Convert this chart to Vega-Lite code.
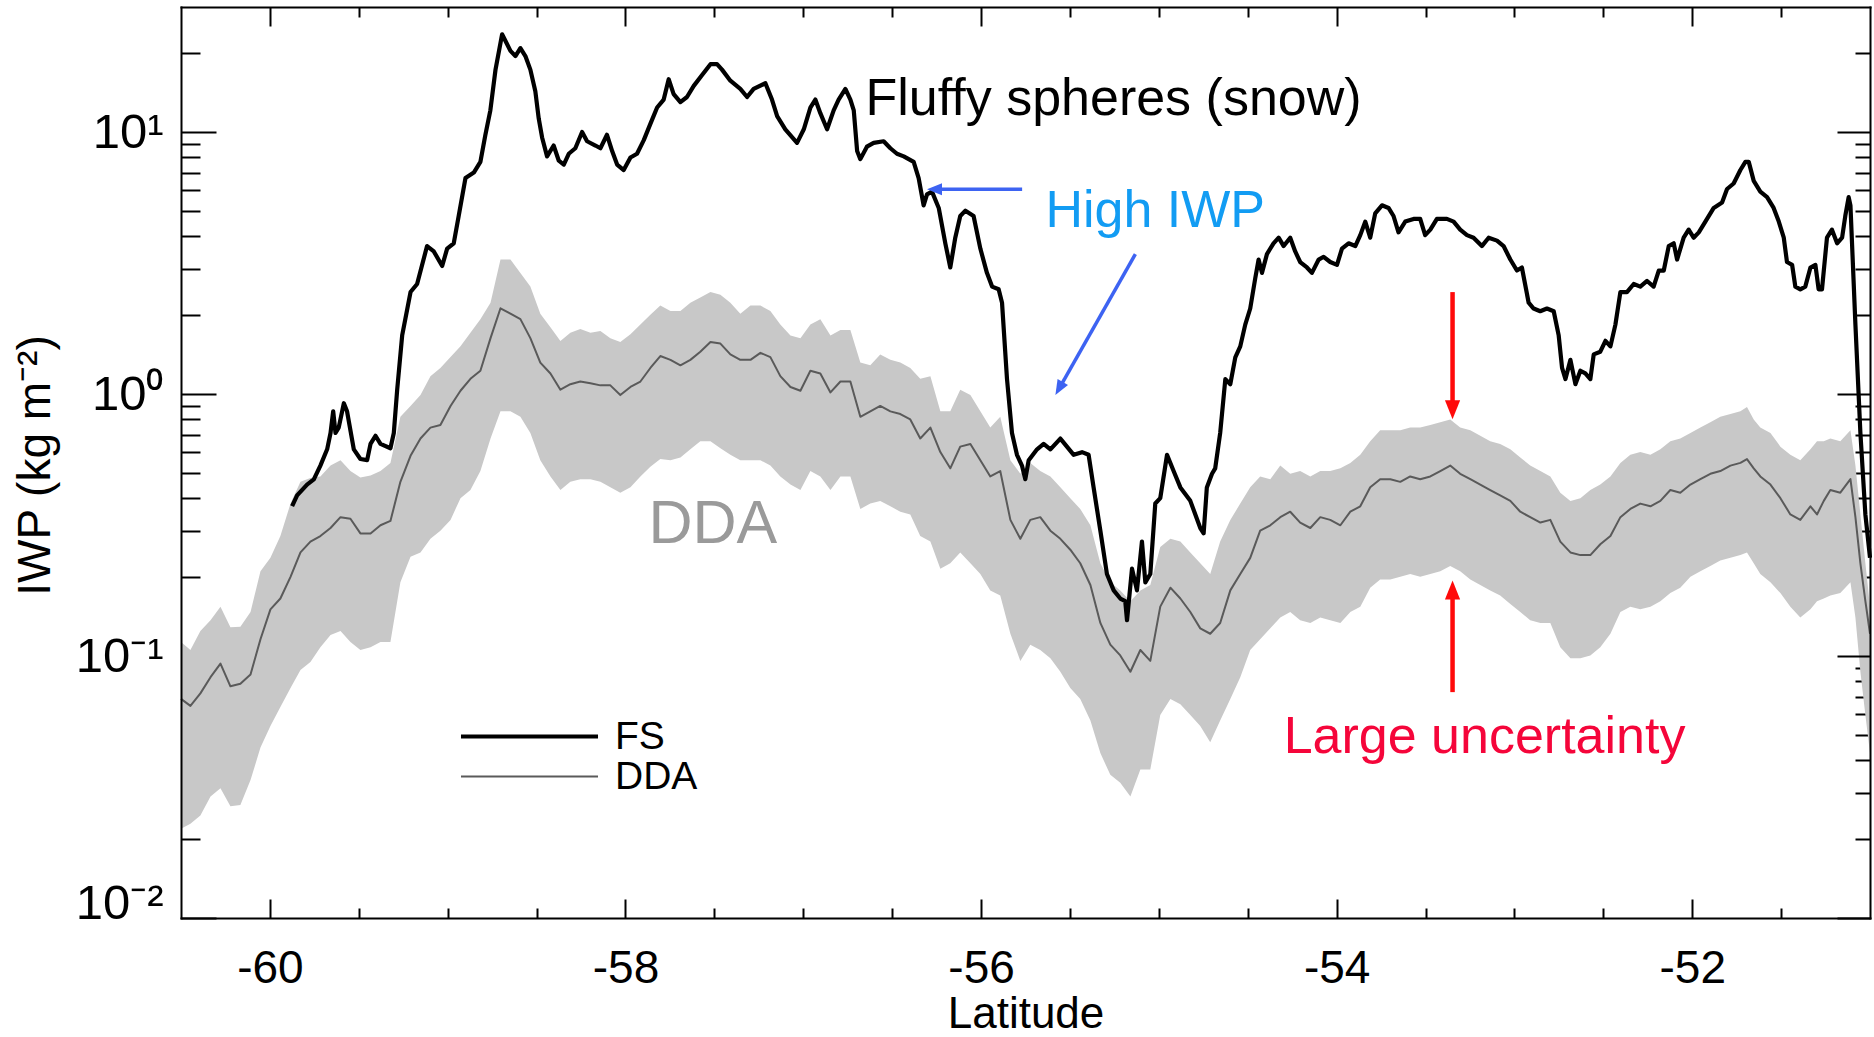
{
  "$schema": "https://vega.github.io/schema/vega-lite/v6.json",
  "width": 1689,
  "height": 911,
  "autosize": {"type": "none"},
  "padding": {"left": 181, "top": 7, "right": 4, "bottom": 119},
  "background": "white",
  "config": {
    "view": {"stroke": null},
    "font": "Liberation Sans",
    "axis": {"grid": false}
  },
  "datasets": {
    "fs": [
      {"lat": -59.875, "iwp": 0.373}, {"lat": -59.847, "iwp": 0.41}, {"lat": -59.791, "iwp": 0.451}, {"lat": -59.753, "iwp": 0.472},
      {"lat": -59.716, "iwp": 0.533}, {"lat": -59.678, "iwp": 0.615}, {"lat": -59.659, "iwp": 0.71}, {"lat": -59.644, "iwp": 0.859},
      {"lat": -59.631, "iwp": 0.71}, {"lat": -59.613, "iwp": 0.744}, {"lat": -59.584, "iwp": 0.922}, {"lat": -59.566, "iwp": 0.859},
      {"lat": -59.528, "iwp": 0.615}, {"lat": -59.491, "iwp": 0.565}, {"lat": -59.453, "iwp": 0.559}, {"lat": -59.434, "iwp": 0.645},
      {"lat": -59.406, "iwp": 0.693}, {"lat": -59.378, "iwp": 0.645}, {"lat": -59.322, "iwp": 0.621}, {"lat": -59.303, "iwp": 0.71},
      {"lat": -59.284, "iwp": 1.039}, {"lat": -59.256, "iwp": 1.673}, {"lat": -59.209, "iwp": 2.45}, {"lat": -59.172, "iwp": 2.63},
      {"lat": -59.116, "iwp": 3.67}, {"lat": -59.078, "iwp": 3.5}, {"lat": -59.031, "iwp": 3.08}, {"lat": -59.003, "iwp": 3.59},
      {"lat": -58.966, "iwp": 3.76}, {"lat": -58.938, "iwp": 4.78}, {"lat": -58.9, "iwp": 6.67}, {"lat": -58.853, "iwp": 7.0},
      {"lat": -58.816, "iwp": 7.69}, {"lat": -58.788, "iwp": 9.76}, {"lat": -58.76, "iwp": 12.1}, {"lat": -58.731, "iwp": 17.3},
      {"lat": -58.694, "iwp": 23.6}, {"lat": -58.647, "iwp": 20.4}, {"lat": -58.619, "iwp": 19.5}, {"lat": -58.591, "iwp": 20.9},
      {"lat": -58.563, "iwp": 19.5}, {"lat": -58.535, "iwp": 17.3}, {"lat": -58.507, "iwp": 14.3}, {"lat": -58.488, "iwp": 11.27},
      {"lat": -58.469, "iwp": 9.53}, {"lat": -58.441, "iwp": 8.07}, {"lat": -58.404, "iwp": 8.88}, {"lat": -58.375, "iwp": 7.77},
      {"lat": -58.347, "iwp": 7.51}, {"lat": -58.319, "iwp": 8.26}, {"lat": -58.282, "iwp": 8.67}, {"lat": -58.244, "iwp": 10.0},
      {"lat": -58.216, "iwp": 9.22}, {"lat": -58.169, "iwp": 8.88}, {"lat": -58.141, "iwp": 8.67}, {"lat": -58.104, "iwp": 9.76},
      {"lat": -58.075, "iwp": 8.46}, {"lat": -58.047, "iwp": 7.51}, {"lat": -58.01, "iwp": 7.16}, {"lat": -57.972, "iwp": 7.99},
      {"lat": -57.935, "iwp": 8.26}, {"lat": -57.897, "iwp": 9.31}, {"lat": -57.86, "iwp": 10.74}, {"lat": -57.822, "iwp": 12.4},
      {"lat": -57.785, "iwp": 13.3}, {"lat": -57.757, "iwp": 15.9}, {"lat": -57.729, "iwp": 13.96}, {"lat": -57.691, "iwp": 13.0},
      {"lat": -57.654, "iwp": 13.6}, {"lat": -57.616, "iwp": 15.0}, {"lat": -57.569, "iwp": 16.5}, {"lat": -57.522, "iwp": 18.15},
      {"lat": -57.485, "iwp": 18.15}, {"lat": -57.457, "iwp": 17.3}, {"lat": -57.41, "iwp": 15.7}, {"lat": -57.354, "iwp": 14.6},
      {"lat": -57.316, "iwp": 13.6}, {"lat": -57.279, "iwp": 14.6}, {"lat": -57.213, "iwp": 15.35}, {"lat": -57.176, "iwp": 13.3},
      {"lat": -57.147, "iwp": 11.5}, {"lat": -57.101, "iwp": 10.24}, {"lat": -57.035, "iwp": 9.09}, {"lat": -56.997, "iwp": 10.24},
      {"lat": -56.96, "iwp": 12.4}, {"lat": -56.932, "iwp": 13.3}, {"lat": -56.904, "iwp": 11.8}, {"lat": -56.866, "iwp": 10.24},
      {"lat": -56.829, "iwp": 12.1}, {"lat": -56.801, "iwp": 13.3}, {"lat": -56.763, "iwp": 14.6}, {"lat": -56.735, "iwp": 13.3},
      {"lat": -56.716, "iwp": 12.1}, {"lat": -56.697, "iwp": 8.46}, {"lat": -56.679, "iwp": 7.88}, {"lat": -56.642, "iwp": 8.79},
      {"lat": -56.604, "iwp": 9.09}, {"lat": -56.548, "iwp": 9.22}, {"lat": -56.51, "iwp": 8.67}, {"lat": -56.473, "iwp": 8.26},
      {"lat": -56.435, "iwp": 8.07}, {"lat": -56.379, "iwp": 7.69}, {"lat": -56.351, "iwp": 6.67}, {"lat": -56.323, "iwp": 5.25},
      {"lat": -56.304, "iwp": 5.78}, {"lat": -56.276, "iwp": 5.92}, {"lat": -56.238, "iwp": 5.13}, {"lat": -56.201, "iwp": 3.76},
      {"lat": -56.173, "iwp": 3.04}, {"lat": -56.145, "iwp": 3.95}, {"lat": -56.117, "iwp": 4.78}, {"lat": -56.088, "iwp": 5.01},
      {"lat": -56.042, "iwp": 4.78}, {"lat": -56.004, "iwp": 3.59}, {"lat": -55.967, "iwp": 2.9}, {"lat": -55.938, "iwp": 2.57},
      {"lat": -55.901, "iwp": 2.51}, {"lat": -55.882, "iwp": 2.23}, {"lat": -55.854, "iwp": 1.14}, {"lat": -55.826, "iwp": 0.71},
      {"lat": -55.798, "iwp": 0.586}, {"lat": -55.77, "iwp": 0.533}, {"lat": -55.751, "iwp": 0.473}, {"lat": -55.732, "iwp": 0.559},
      {"lat": -55.685, "iwp": 0.615}, {"lat": -55.648, "iwp": 0.645}, {"lat": -55.61, "iwp": 0.615}, {"lat": -55.554, "iwp": 0.676},
      {"lat": -55.517, "iwp": 0.63}, {"lat": -55.479, "iwp": 0.586}, {"lat": -55.432, "iwp": 0.6}, {"lat": -55.395, "iwp": 0.586},
      {"lat": -55.367, "iwp": 0.44}, {"lat": -55.329, "iwp": 0.301}, {"lat": -55.292, "iwp": 0.2055}, {"lat": -55.254, "iwp": 0.178},
      {"lat": -55.217, "iwp": 0.1657}, {"lat": -55.189, "iwp": 0.162}, {"lat": -55.179, "iwp": 0.137}, {"lat": -55.151, "iwp": 0.2154},
      {"lat": -55.123, "iwp": 0.178}, {"lat": -55.095, "iwp": 0.2735}, {"lat": -55.076, "iwp": 0.191}, {"lat": -55.048, "iwp": 0.2055},
      {"lat": -55.02, "iwp": 0.382}, {"lat": -54.992, "iwp": 0.4004}, {"lat": -54.954, "iwp": 0.586}, {"lat": -54.917, "iwp": 0.508},
      {"lat": -54.879, "iwp": 0.44}, {"lat": -54.823, "iwp": 0.391}, {"lat": -54.767, "iwp": 0.308}, {"lat": -54.748, "iwp": 0.294},
      {"lat": -54.73, "iwp": 0.44}, {"lat": -54.701, "iwp": 0.496}, {"lat": -54.683, "iwp": 0.52}, {"lat": -54.655, "iwp": 0.71},
      {"lat": -54.626, "iwp": 1.14}, {"lat": -54.598, "iwp": 1.09}, {"lat": -54.57, "iwp": 1.38}, {"lat": -54.542, "iwp": 1.52},
      {"lat": -54.514, "iwp": 1.84}, {"lat": -54.486, "iwp": 2.12}, {"lat": -54.458, "iwp": 2.76}, {"lat": -54.439, "iwp": 3.26},
      {"lat": -54.42, "iwp": 2.9}, {"lat": -54.392, "iwp": 3.42}, {"lat": -54.355, "iwp": 3.76}, {"lat": -54.326, "iwp": 3.95},
      {"lat": -54.298, "iwp": 3.67}, {"lat": -54.261, "iwp": 3.95}, {"lat": -54.233, "iwp": 3.5}, {"lat": -54.205, "iwp": 3.19},
      {"lat": -54.167, "iwp": 3.04}, {"lat": -54.139, "iwp": 2.9}, {"lat": -54.101, "iwp": 3.26}, {"lat": -54.073, "iwp": 3.34},
      {"lat": -54.036, "iwp": 3.19}, {"lat": -53.998, "iwp": 3.11}, {"lat": -53.97, "iwp": 3.59}, {"lat": -53.933, "iwp": 3.76},
      {"lat": -53.895, "iwp": 3.67}, {"lat": -53.867, "iwp": 4.04}, {"lat": -53.839, "iwp": 4.55}, {"lat": -53.811, "iwp": 3.95},
      {"lat": -53.783, "iwp": 4.89}, {"lat": -53.745, "iwp": 5.25}, {"lat": -53.708, "iwp": 5.13}, {"lat": -53.68, "iwp": 4.78},
      {"lat": -53.652, "iwp": 4.14}, {"lat": -53.614, "iwp": 4.55}, {"lat": -53.567, "iwp": 4.66}, {"lat": -53.53, "iwp": 4.66},
      {"lat": -53.502, "iwp": 4.04}, {"lat": -53.473, "iwp": 4.24}, {"lat": -53.436, "iwp": 4.66}, {"lat": -53.38, "iwp": 4.66},
      {"lat": -53.342, "iwp": 4.55}, {"lat": -53.305, "iwp": 4.24}, {"lat": -53.267, "iwp": 4.04}, {"lat": -53.23, "iwp": 3.95},
      {"lat": -53.183, "iwp": 3.67}, {"lat": -53.145, "iwp": 3.95}, {"lat": -53.098, "iwp": 3.85}, {"lat": -53.061, "iwp": 3.67},
      {"lat": -53.023, "iwp": 3.26}, {"lat": -52.986, "iwp": 2.96}, {"lat": -52.958, "iwp": 3.04}, {"lat": -52.92, "iwp": 2.23},
      {"lat": -52.892, "iwp": 2.12}, {"lat": -52.855, "iwp": 2.07}, {"lat": -52.817, "iwp": 2.12}, {"lat": -52.779, "iwp": 2.07},
      {"lat": -52.751, "iwp": 1.673}, {"lat": -52.732, "iwp": 1.257}, {"lat": -52.713, "iwp": 1.14}, {"lat": -52.685, "iwp": 1.35},
      {"lat": -52.657, "iwp": 1.09}, {"lat": -52.629, "iwp": 1.227}, {"lat": -52.601, "iwp": 1.198}, {"lat": -52.573, "iwp": 1.14},
      {"lat": -52.554, "iwp": 1.416}, {"lat": -52.517, "iwp": 1.45}, {"lat": -52.488, "iwp": 1.596}, {"lat": -52.46, "iwp": 1.52},
      {"lat": -52.432, "iwp": 1.84}, {"lat": -52.404, "iwp": 2.45}, {"lat": -52.367, "iwp": 2.45}, {"lat": -52.329, "iwp": 2.63},
      {"lat": -52.292, "iwp": 2.57}, {"lat": -52.254, "iwp": 2.7}, {"lat": -52.217, "iwp": 2.57}, {"lat": -52.188, "iwp": 2.96},
      {"lat": -52.16, "iwp": 2.96}, {"lat": -52.132, "iwp": 3.67}, {"lat": -52.104, "iwp": 3.76}, {"lat": -52.085, "iwp": 3.26},
      {"lat": -52.048, "iwp": 3.95}, {"lat": -52.02, "iwp": 4.24}, {"lat": -51.992, "iwp": 3.95}, {"lat": -51.963, "iwp": 4.14},
      {"lat": -51.926, "iwp": 4.55}, {"lat": -51.879, "iwp": 5.13}, {"lat": -51.832, "iwp": 5.38}, {"lat": -51.804, "iwp": 6.06},
      {"lat": -51.767, "iwp": 6.36}, {"lat": -51.729, "iwp": 7.16}, {"lat": -51.701, "iwp": 7.69}, {"lat": -51.682, "iwp": 7.69},
      {"lat": -51.654, "iwp": 6.51}, {"lat": -51.617, "iwp": 5.92}, {"lat": -51.579, "iwp": 5.64}, {"lat": -51.542, "iwp": 5.13},
      {"lat": -51.513, "iwp": 4.55}, {"lat": -51.485, "iwp": 3.95}, {"lat": -51.467, "iwp": 3.19}, {"lat": -51.438, "iwp": 3.11},
      {"lat": -51.42, "iwp": 2.57}, {"lat": -51.392, "iwp": 2.51}, {"lat": -51.364, "iwp": 2.57}, {"lat": -51.335, "iwp": 3.04},
      {"lat": -51.307, "iwp": 3.11}, {"lat": -51.289, "iwp": 2.51}, {"lat": -51.27, "iwp": 2.51}, {"lat": -51.242, "iwp": 3.95},
      {"lat": -51.214, "iwp": 4.24}, {"lat": -51.185, "iwp": 3.76}, {"lat": -51.157, "iwp": 3.95}, {"lat": -51.139, "iwp": 4.78},
      {"lat": -51.12, "iwp": 5.64}, {"lat": -51.11, "iwp": 5.25}, {"lat": -51.082, "iwp": 1.84}, {"lat": -51.054, "iwp": 0.71},
      {"lat": -51.026, "iwp": 0.347}, {"lat": -51.0, "iwp": 0.237}
    ],
    "dda": [
      {"lat": -60.5, "iwp": 0.0686, "lo": 0.0219, "hi": 0.1132}, {"lat": -60.447, "iwp": 0.0645, "lo": 0.0229, "hi": 0.1054},
      {"lat": -60.391, "iwp": 0.072, "lo": 0.0246, "hi": 0.1245}, {"lat": -60.334, "iwp": 0.083, "lo": 0.0291, "hi": 0.137},
      {"lat": -60.278, "iwp": 0.0935, "lo": 0.0313, "hi": 0.1543}, {"lat": -60.222, "iwp": 0.0766, "lo": 0.0267, "hi": 0.1287},
      {"lat": -60.166, "iwp": 0.0784, "lo": 0.027, "hi": 0.1294}, {"lat": -60.109, "iwp": 0.085, "lo": 0.0336, "hi": 0.1472},
      {"lat": -60.053, "iwp": 0.1159, "lo": 0.0447, "hi": 0.2104}, {"lat": -59.997, "iwp": 0.1507, "lo": 0.0541, "hi": 0.2369},
      {"lat": -59.941, "iwp": 0.1658, "lo": 0.0639, "hi": 0.2869}, {"lat": -59.884, "iwp": 0.2005, "lo": 0.0755, "hi": 0.3817},
      {"lat": -59.828, "iwp": 0.2485, "lo": 0.0884, "hi": 0.462}, {"lat": -59.772, "iwp": 0.2734, "lo": 0.0949, "hi": 0.4776},
      {"lat": -59.716, "iwp": 0.2869, "lo": 0.1079, "hi": 0.4845}, {"lat": -59.659, "iwp": 0.308, "lo": 0.1204, "hi": 0.533},
      {"lat": -59.603, "iwp": 0.3388, "lo": 0.1245, "hi": 0.559}, {"lat": -59.547, "iwp": 0.3341, "lo": 0.1132, "hi": 0.5082},
      {"lat": -59.491, "iwp": 0.2937, "lo": 0.1054, "hi": 0.4799}, {"lat": -59.434, "iwp": 0.2937, "lo": 0.1079, "hi": 0.4891},
      {"lat": -59.378, "iwp": 0.3155, "lo": 0.1132, "hi": 0.5082}, {"lat": -59.322, "iwp": 0.3277, "lo": 0.1132, "hi": 0.5459},
      {"lat": -59.266, "iwp": 0.462, "lo": 0.1912, "hi": 0.8187}, {"lat": -59.209, "iwp": 0.5808, "lo": 0.2392, "hi": 0.9004},
      {"lat": -59.153, "iwp": 0.6765, "lo": 0.2485, "hi": 0.9905}, {"lat": -59.097, "iwp": 0.7443, "lo": 0.2801, "hi": 1.17},
      {"lat": -59.041, "iwp": 0.762, "lo": 0.3008, "hi": 1.257}, {"lat": -58.984, "iwp": 0.9004, "lo": 0.3308, "hi": 1.383},
      {"lat": -58.928, "iwp": 1.029, "lo": 0.4004, "hi": 1.521}, {"lat": -58.872, "iwp": 1.143, "lo": 0.4301, "hi": 1.714},
      {"lat": -58.816, "iwp": 1.227, "lo": 0.5082, "hi": 1.931}, {"lat": -58.759, "iwp": 1.634, "lo": 0.6765, "hi": 2.228},
      {"lat": -58.703, "iwp": 2.124, "lo": 0.8585, "hi": 3.263}, {"lat": -58.647, "iwp": 2.025, "lo": 0.8585, "hi": 3.263},
      {"lat": -58.591, "iwp": 1.931, "lo": 0.8187, "hi": 2.895}, {"lat": -58.535, "iwp": 1.634, "lo": 0.7096, "hi": 2.57},
      {"lat": -58.479, "iwp": 1.318, "lo": 0.559, "hi": 2.025}, {"lat": -58.422, "iwp": 1.198, "lo": 0.4845, "hi": 1.797},
      {"lat": -58.366, "iwp": 1.039, "lo": 0.4301, "hi": 1.595}, {"lat": -58.31, "iwp": 1.09, "lo": 0.462, "hi": 1.714},
      {"lat": -58.254, "iwp": 1.116, "lo": 0.4731, "hi": 1.772}, {"lat": -58.197, "iwp": 1.1, "lo": 0.4731, "hi": 1.714},
      {"lat": -58.141, "iwp": 1.079, "lo": 0.462, "hi": 1.739}, {"lat": -58.085, "iwp": 1.079, "lo": 0.4404, "hi": 1.634},
      {"lat": -58.029, "iwp": 0.9905, "lo": 0.42, "hi": 1.58}, {"lat": -57.972, "iwp": 1.064, "lo": 0.4404, "hi": 1.69},
      {"lat": -57.916, "iwp": 1.116, "lo": 0.4845, "hi": 1.841}, {"lat": -57.86, "iwp": 1.257, "lo": 0.5279, "hi": 2.006},
      {"lat": -57.804, "iwp": 1.396, "lo": 0.5643, "hi": 2.175}, {"lat": -57.747, "iwp": 1.35, "lo": 0.559, "hi": 2.074},
      {"lat": -57.691, "iwp": 1.287, "lo": 0.5727, "hi": 2.074}, {"lat": -57.635, "iwp": 1.35, "lo": 0.615, "hi": 2.228},
      {"lat": -57.579, "iwp": 1.45, "lo": 0.6606, "hi": 2.336}, {"lat": -57.522, "iwp": 1.58, "lo": 0.6606, "hi": 2.45},
      {"lat": -57.466, "iwp": 1.558, "lo": 0.6209, "hi": 2.392}, {"lat": -57.41, "iwp": 1.416, "lo": 0.5862, "hi": 2.228},
      {"lat": -57.354, "iwp": 1.35, "lo": 0.559, "hi": 2.025}, {"lat": -57.297, "iwp": 1.35, "lo": 0.559, "hi": 2.175},
      {"lat": -57.241, "iwp": 1.436, "lo": 0.559, "hi": 2.175}, {"lat": -57.185, "iwp": 1.383, "lo": 0.533, "hi": 2.074},
      {"lat": -57.129, "iwp": 1.17, "lo": 0.4845, "hi": 1.841}, {"lat": -57.072, "iwp": 1.064, "lo": 0.4511, "hi": 1.673},
      {"lat": -57.016, "iwp": 1.029, "lo": 0.4301, "hi": 1.634}, {"lat": -56.96, "iwp": 1.227, "lo": 0.5082, "hi": 1.841},
      {"lat": -56.904, "iwp": 1.198, "lo": 0.4845, "hi": 1.931}, {"lat": -56.847, "iwp": 1.014, "lo": 0.4301, "hi": 1.673},
      {"lat": -56.791, "iwp": 1.116, "lo": 0.4845, "hi": 1.755}, {"lat": -56.735, "iwp": 1.116, "lo": 0.4845, "hi": 1.755},
      {"lat": -56.679, "iwp": 0.8187, "lo": 0.364, "hi": 1.318}, {"lat": -56.623, "iwp": 0.8585, "lo": 0.3817, "hi": 1.287},
      {"lat": -56.567, "iwp": 0.9004, "lo": 0.3909, "hi": 1.416}, {"lat": -56.51, "iwp": 0.8585, "lo": 0.3727, "hi": 1.35},
      {"lat": -56.454, "iwp": 0.8385, "lo": 0.3554, "hi": 1.318}, {"lat": -56.398, "iwp": 0.7993, "lo": 0.347, "hi": 1.257},
      {"lat": -56.342, "iwp": 0.6765, "lo": 0.2869, "hi": 1.143}, {"lat": -56.285, "iwp": 0.7443, "lo": 0.2734, "hi": 1.17},
      {"lat": -56.229, "iwp": 0.6005, "lo": 0.2154, "hi": 0.8585}, {"lat": -56.173, "iwp": 0.5204, "lo": 0.2259, "hi": 0.8585},
      {"lat": -56.117, "iwp": 0.6297, "lo": 0.2485, "hi": 1.039}, {"lat": -56.06, "iwp": 0.6449, "lo": 0.2259, "hi": 0.9905},
      {"lat": -56.004, "iwp": 0.559, "lo": 0.2054, "hi": 0.8585}, {"lat": -55.948, "iwp": 0.4845, "lo": 0.178, "hi": 0.7443},
      {"lat": -55.892, "iwp": 0.5082, "lo": 0.17, "hi": 0.8187}, {"lat": -55.835, "iwp": 0.3308, "lo": 0.1216, "hi": 0.559},
      {"lat": -55.779, "iwp": 0.2801, "lo": 0.0958, "hi": 0.4961}, {"lat": -55.723, "iwp": 0.3308, "lo": 0.1105, "hi": 0.5459},
      {"lat": -55.667, "iwp": 0.3388, "lo": 0.1054, "hi": 0.5082}, {"lat": -55.61, "iwp": 0.3008, "lo": 0.0981, "hi": 0.4845},
      {"lat": -55.554, "iwp": 0.2801, "lo": 0.0871, "hi": 0.4404}, {"lat": -55.498, "iwp": 0.2545, "lo": 0.0755, "hi": 0.4004},
      {"lat": -55.442, "iwp": 0.2259, "lo": 0.0686, "hi": 0.364}, {"lat": -55.385, "iwp": 0.1867, "lo": 0.0567, "hi": 0.3155},
      {"lat": -55.329, "iwp": 0.1337, "lo": 0.0426, "hi": 0.2259}, {"lat": -55.273, "iwp": 0.1105, "lo": 0.0352, "hi": 0.1912},
      {"lat": -55.217, "iwp": 0.1005, "lo": 0.0328, "hi": 0.178}, {"lat": -55.16, "iwp": 0.0871, "lo": 0.0291, "hi": 0.1619},
      {"lat": -55.104, "iwp": 0.1054, "lo": 0.0369, "hi": 0.178}, {"lat": -55.048, "iwp": 0.0958, "lo": 0.0369, "hi": 0.1867},
      {"lat": -54.992, "iwp": 0.1543, "lo": 0.0595, "hi": 0.2607}, {"lat": -54.935, "iwp": 0.1823, "lo": 0.0686, "hi": 0.2801},
      {"lat": -54.879, "iwp": 0.1658, "lo": 0.0654, "hi": 0.2734}, {"lat": -54.823, "iwp": 0.1472, "lo": 0.0595, "hi": 0.2485},
      {"lat": -54.767, "iwp": 0.1275, "lo": 0.0541, "hi": 0.2259}, {"lat": -54.711, "iwp": 0.1216, "lo": 0.0469, "hi": 0.2054},
      {"lat": -54.655, "iwp": 0.1337, "lo": 0.0567, "hi": 0.2734}, {"lat": -54.598, "iwp": 0.178, "lo": 0.0686, "hi": 0.3308},
      {"lat": -54.542, "iwp": 0.2054, "lo": 0.083, "hi": 0.3817}, {"lat": -54.486, "iwp": 0.2369, "lo": 0.1054, "hi": 0.4404},
      {"lat": -54.43, "iwp": 0.3008, "lo": 0.1159, "hi": 0.4845}, {"lat": -54.373, "iwp": 0.3155, "lo": 0.1275, "hi": 0.4731},
      {"lat": -54.317, "iwp": 0.3388, "lo": 0.1403, "hi": 0.533}, {"lat": -54.261, "iwp": 0.3554, "lo": 0.1472, "hi": 0.4961},
      {"lat": -54.205, "iwp": 0.3231, "lo": 0.137, "hi": 0.5082}, {"lat": -54.148, "iwp": 0.308, "lo": 0.1337, "hi": 0.4845},
      {"lat": -54.092, "iwp": 0.3388, "lo": 0.1403, "hi": 0.5082}, {"lat": -54.036, "iwp": 0.3308, "lo": 0.137, "hi": 0.5082},
      {"lat": -53.979, "iwp": 0.3155, "lo": 0.1337, "hi": 0.5204}, {"lat": -53.923, "iwp": 0.3554, "lo": 0.1472, "hi": 0.5459},
      {"lat": -53.867, "iwp": 0.3727, "lo": 0.1543, "hi": 0.5862}, {"lat": -53.811, "iwp": 0.4404, "lo": 0.1823, "hi": 0.6606},
      {"lat": -53.755, "iwp": 0.4731, "lo": 0.1958, "hi": 0.7267}, {"lat": -53.698, "iwp": 0.4731, "lo": 0.1958, "hi": 0.7267},
      {"lat": -53.642, "iwp": 0.462, "lo": 0.2005, "hi": 0.7267}, {"lat": -53.586, "iwp": 0.4845, "lo": 0.2054, "hi": 0.7443},
      {"lat": -53.53, "iwp": 0.4731, "lo": 0.2005, "hi": 0.7443}, {"lat": -53.473, "iwp": 0.4845, "lo": 0.2054, "hi": 0.762},
      {"lat": -53.417, "iwp": 0.5082, "lo": 0.2104, "hi": 0.7804}, {"lat": -53.361, "iwp": 0.533, "lo": 0.2207, "hi": 0.7993},
      {"lat": -53.305, "iwp": 0.4961, "lo": 0.2104, "hi": 0.7443}, {"lat": -53.248, "iwp": 0.4731, "lo": 0.1958, "hi": 0.7267},
      {"lat": -53.192, "iwp": 0.4511, "lo": 0.1867, "hi": 0.6928}, {"lat": -53.136, "iwp": 0.4301, "lo": 0.178, "hi": 0.6606},
      {"lat": -53.08, "iwp": 0.4101, "lo": 0.17, "hi": 0.6449}, {"lat": -53.023, "iwp": 0.3909, "lo": 0.158, "hi": 0.615},
      {"lat": -52.967, "iwp": 0.3554, "lo": 0.1472, "hi": 0.5727}, {"lat": -52.911, "iwp": 0.3388, "lo": 0.137, "hi": 0.533},
      {"lat": -52.854, "iwp": 0.3231, "lo": 0.1337, "hi": 0.5082}, {"lat": -52.798, "iwp": 0.3308, "lo": 0.1337, "hi": 0.4845},
      {"lat": -52.742, "iwp": 0.2734, "lo": 0.1079, "hi": 0.42}, {"lat": -52.685, "iwp": 0.2485, "lo": 0.0981, "hi": 0.3909},
      {"lat": -52.629, "iwp": 0.2427, "lo": 0.0981, "hi": 0.4004}, {"lat": -52.573, "iwp": 0.2427, "lo": 0.1005, "hi": 0.4301},
      {"lat": -52.517, "iwp": 0.267, "lo": 0.1079, "hi": 0.4511}, {"lat": -52.46, "iwp": 0.2869, "lo": 0.1216, "hi": 0.4845},
      {"lat": -52.404, "iwp": 0.3388, "lo": 0.1472, "hi": 0.5459}, {"lat": -52.348, "iwp": 0.364, "lo": 0.1543, "hi": 0.5862},
      {"lat": -52.292, "iwp": 0.3817, "lo": 0.1507, "hi": 0.6005}, {"lat": -52.235, "iwp": 0.3727, "lo": 0.1543, "hi": 0.5862},
      {"lat": -52.179, "iwp": 0.3909, "lo": 0.1619, "hi": 0.615}, {"lat": -52.123, "iwp": 0.4301, "lo": 0.1738, "hi": 0.6606},
      {"lat": -52.067, "iwp": 0.42, "lo": 0.1823, "hi": 0.6765}, {"lat": -52.01, "iwp": 0.4511, "lo": 0.2005, "hi": 0.7096},
      {"lat": -51.954, "iwp": 0.4731, "lo": 0.2104, "hi": 0.7443}, {"lat": -51.898, "iwp": 0.4961, "lo": 0.2207, "hi": 0.7804},
      {"lat": -51.842, "iwp": 0.5082, "lo": 0.2314, "hi": 0.8187}, {"lat": -51.785, "iwp": 0.533, "lo": 0.2369, "hi": 0.8385},
      {"lat": -51.729, "iwp": 0.5459, "lo": 0.2427, "hi": 0.8585}, {"lat": -51.692, "iwp": 0.5643, "lo": 0.2485, "hi": 0.8919},
      {"lat": -51.654, "iwp": 0.5204, "lo": 0.2259, "hi": 0.7993}, {"lat": -51.617, "iwp": 0.4845, "lo": 0.2054, "hi": 0.7443},
      {"lat": -51.56, "iwp": 0.4511, "lo": 0.1912, "hi": 0.7096}, {"lat": -51.504, "iwp": 0.4004, "lo": 0.1738, "hi": 0.6297},
      {"lat": -51.448, "iwp": 0.347, "lo": 0.1543, "hi": 0.5862}, {"lat": -51.392, "iwp": 0.3308, "lo": 0.1403, "hi": 0.559},
      {"lat": -51.335, "iwp": 0.3727, "lo": 0.1507, "hi": 0.615}, {"lat": -51.298, "iwp": 0.347, "lo": 0.1619, "hi": 0.6606},
      {"lat": -51.26, "iwp": 0.3909, "lo": 0.1658, "hi": 0.6606}, {"lat": -51.223, "iwp": 0.4301, "lo": 0.17, "hi": 0.6765},
      {"lat": -51.167, "iwp": 0.42, "lo": 0.1738, "hi": 0.6606}, {"lat": -51.11, "iwp": 0.4731, "lo": 0.1912, "hi": 0.7267},
      {"lat": -51.082, "iwp": 0.339, "lo": 0.1403, "hi": 0.533}, {"lat": -51.054, "iwp": 0.2259, "lo": 0.0871, "hi": 0.347},
      {"lat": -51.026, "iwp": 0.1619, "lo": 0.0595, "hi": 0.2259}, {"lat": -51.0, "iwp": 0.1216, "lo": 0.0426, "hi": 0.1543}
    ]
  },
  "layer": [
    {
      "data": {"name": "dda"},
      "mark": {"type": "area", "color": "#c8c8c8", "opacity": 1},
      "encoding": {
        "x": {
          "field": "lat", "type": "quantitative",
          "scale": {"domain": [-60.5, -51.0], "nice": false, "zero": false},
          "axis": {
            "orient": "bottom", "values": [-60, -58, -56, -54, -52], "ticks": false,
            "domain": true, "domainColor": "#000000", "domainWidth": 2, "domainCap": "square",
            "labelExpr": "'-' + abs(datum.value)", "labelFont": "Liberation Sans", "labelFontSize": 46,
            "labelColor": "#000000", "labelPadding": 64, "labelBaseline": "alphabetic",
            "labelFlush": false, "labelOverlap": false,
            "title": "Latitude", "titleFont": "Liberation Sans", "titleFontSize": 44, "titleFontWeight": "normal",
            "titleColor": "#000000", "titleX": 844.5, "titleY": 109, "titleAlign": "center", "titleBaseline": "alphabetic",
            "zindex": 1
          }
        },
        "y": {
          "field": "hi", "type": "quantitative",
          "scale": {"type": "log", "domain": [0.01, 30], "nice": false},
          "axis": {
            "orient": "left", "values": [0.01, 0.1, 1, 10], "ticks": false,
            "domain": true, "domainColor": "#000000", "domainWidth": 2, "domainCap": "square",
            "labelExpr": "datum.value > 5 ? '10¹' : datum.value > 0.5 ? '10⁰' : datum.value > 0.05 ? '10⁻¹' : '10⁻²'",
            "labelFont": "Liberation Sans", "labelFontSize": 49, "labelColor": "#000000", "labelPadding": 18,
            "labelAlign": "right",
            "labelBaseline": {"condition": {"test": "datum.value < 0.05", "value": "alphabetic"}, "value": "middle"},
            "labelFlush": false, "labelOverlap": false,
            "title": "IWP (kg m⁻²)", "titleFont": "Liberation Sans", "titleFontSize": 46, "titleFontWeight": "normal",
            "titleColor": "#000000", "titleX": -146, "titleY": 458, "titleAngle": -90, "titleAlign": "center",
            "titleBaseline": "middle", "zindex": 1
          }
        },
        "y2": {"field": "lo"}
      }
    },
    {
      "data": {"name": "dda"},
      "mark": {"type": "line", "strokeJoin": "round"},
      "encoding": {
        "x": {
          "field": "lat", "type": "quantitative",
          "axis": {
            "orient": "bottom", "values": [-59.5, -59, -58.5, -57.5, -57, -56.5, -55.5, -55, -54.5, -53.5, -53, -52.5, -51.5],
            "domain": false, "labels": false, "tickSize": -10, "tickWidth": 2, "tickColor": "#000000", "title": null
          }
        },
        "y": {
          "field": "iwp", "type": "quantitative",
          "axis": {
            "orient": "left",
            "values": [0.02, 0.03, 0.04, 0.05, 0.06, 0.07, 0.08, 0.09, 0.2, 0.3, 0.4, 0.5, 0.6, 0.7, 0.8, 0.9, 2, 3, 4, 5, 6, 7, 8, 9, 20],
            "domain": false, "labels": false, "tickSize": -19, "tickWidth": 2, "tickColor": "#000000", "title": null
          }
        },
        "color": {
          "datum": "DDA", "type": "ordinal",
          "scale": {"domain": ["FS", "DDA"], "range": ["#000000", "#5a5a5a"]},
          "legend": {
            "orient": "none", "legendX": 329, "legendY": 710, "title": null,
            "symbolType": "M-5,0L5,0", "symbolSize": 751, "labelFont": "Liberation Sans", "labelFontSize": 39,
            "labelColor": "#000000", "labelOffset": 66, "rowPadding": -7, "padding": 0
          }
        },
        "strokeWidth": {
          "datum": "DDA", "type": "ordinal",
          "scale": {"domain": ["FS", "DDA"], "range": [4.2, 2]},
          "legend": {
            "orient": "none", "legendX": 329, "legendY": 710, "title": null,
            "symbolType": "M-5,0L5,0", "symbolSize": 751, "labelFont": "Liberation Sans", "labelFontSize": 39,
            "labelColor": "#000000", "labelOffset": 66, "rowPadding": -7, "padding": 0
          }
        }
      }
    },
    {
      "data": {"name": "fs"},
      "mark": {"type": "line", "strokeJoin": "round"},
      "encoding": {
        "x": {
          "field": "lat", "type": "quantitative",
          "axis": {
            "orient": "bottom", "values": [-60, -58, -56, -54, -52],
            "domain": false, "labels": false, "tickSize": -19, "tickWidth": 2, "tickColor": "#000000", "title": null
          }
        },
        "y": {
          "field": "iwp", "type": "quantitative",
          "axis": {
            "orient": "left", "values": [0.01, 0.1, 1, 10],
            "domain": false, "labels": false, "tickSize": -35, "tickWidth": 2, "tickColor": "#000000", "title": null
          }
        },
        "color": {"datum": "FS", "type": "ordinal"},
        "strokeWidth": {"datum": "FS", "type": "ordinal"}
      }
    },
    {
      "data": {"values": [{}]},
      "mark": {"type": "text", "text": "Fluffy spheres (snow)", "align": "left", "baseline": "alphabetic",
               "font": "Liberation Sans", "fontSize": 52, "color": "#000000"},
      "encoding": {
        "x": {
          "datum": -56.65, "type": "quantitative",
          "axis": {
            "orient": "top", "values": [-60, -58, -56, -54, -52], "labels": false,
            "domain": true, "domainColor": "#000000", "domainWidth": 2, "domainCap": "square",
            "tickSize": -19, "tickWidth": 2, "tickColor": "#000000", "title": null, "zindex": 1
          }
        },
        "y": {
          "datum": 11.57, "type": "quantitative",
          "axis": {
            "orient": "right", "values": [0.01, 0.1, 1, 10], "labels": false,
            "domain": true, "domainColor": "#000000", "domainWidth": 2, "domainCap": "square",
            "tickSize": -33, "tickWidth": 2, "tickColor": "#000000", "title": null, "zindex": 1
          }
        }
      }
    },
    {
      "data": {"values": [{}]},
      "mark": {"type": "text", "text": "High IWP", "align": "left", "baseline": "alphabetic",
               "font": "Liberation Sans", "fontSize": 52, "color": "#129cf3"},
      "encoding": {
        "x": {
          "datum": -55.638, "type": "quantitative",
          "axis": {
            "orient": "top", "values": [-59.5, -59, -58.5, -57.5, -57, -56.5, -55.5, -55, -54.5, -53.5, -53, -52.5, -51.5],
            "labels": false, "domain": false, "tickSize": -10, "tickWidth": 2, "tickColor": "#000000", "title": null
          }
        },
        "y": {
          "datum": 4.34, "type": "quantitative",
          "axis": {
            "orient": "right",
            "values": [0.02, 0.03, 0.04, 0.05, 0.06, 0.07, 0.08, 0.09, 0.2, 0.3, 0.4, 0.5, 0.6, 0.7, 0.8, 0.9, 2, 3, 4, 5, 6, 7, 8, 9, 20],
            "labels": false, "domain": false, "tickSize": -15, "tickWidth": 2, "tickColor": "#000000", "title": null
          }
        }
      }
    },
    {
      "data": {"values": [{}]},
      "mark": {"type": "text", "text": "DDA", "align": "left", "baseline": "alphabetic",
               "font": "Liberation Sans", "fontSize": 61, "color": "#9a9a9a"},
      "encoding": {
        "x": {"datum": -57.871, "type": "quantitative", "axis": null},
        "y": {"datum": 0.27, "type": "quantitative", "axis": null}
      }
    },
    {
      "data": {"values": [{}]},
      "mark": {"type": "text", "text": "Large uncertainty", "align": "left", "baseline": "alphabetic",
               "font": "Liberation Sans", "fontSize": 52, "color": "#f5053a"},
      "encoding": {
        "x": {"datum": -54.298, "type": "quantitative", "axis": null},
        "y": {"datum": 0.0427, "type": "quantitative", "axis": null}
      }
    },
    {
      "data": {"values": [{}]},
      "mark": {"type": "rule", "color": "#3d63f2", "strokeWidth": 3.5},
      "encoding": {
        "x": {"datum": -55.769, "type": "quantitative", "axis": null},
        "y": {"datum": 6.04, "type": "quantitative", "axis": null},
        "x2": {"datum": -56.262},
        "y2": {"datum": 6.04}
      }
    },
    {
      "data": {"values": [{}]},
      "mark": {"type": "point", "shape": "M0,-1L0.8,1L-0.8,1Z", "filled": true, "opacity": 1,
               "color": "#3d63f2", "size": 225, "angle": 270},
      "encoding": {
        "x": {"datum": -56.262, "type": "quantitative", "axis": null},
        "y": {"datum": 6.04, "type": "quantitative", "axis": null}
      }
    },
    {
      "data": {"values": [{}]},
      "mark": {"type": "rule", "color": "#3d63f2", "strokeWidth": 3.5},
      "encoding": {
        "x": {"datum": -55.132, "type": "quantitative", "axis": null},
        "y": {"datum": 3.42, "type": "quantitative", "axis": null},
        "x2": {"datum": -55.561},
        "y2": {"datum": 1.049}
      }
    },
    {
      "data": {"values": [{}]},
      "mark": {"type": "point", "shape": "M0,-1L0.8,1L-0.8,1Z", "filled": true, "opacity": 1,
               "color": "#3d63f2", "size": 225, "angle": 209.6},
      "encoding": {
        "x": {"datum": -55.561, "type": "quantitative", "axis": null},
        "y": {"datum": 1.049, "type": "quantitative", "axis": null}
      }
    },
    {
      "data": {"values": [{}]},
      "mark": {"type": "rule", "color": "#ff0a0a", "strokeWidth": 4.5},
      "encoding": {
        "x": {"datum": -53.348, "type": "quantitative", "axis": null},
        "y": {"datum": 2.449, "type": "quantitative", "axis": null},
        "x2": {"datum": -53.348},
        "y2": {"datum": 0.87}
      }
    },
    {
      "data": {"values": [{}]},
      "mark": {"type": "point", "shape": "M0,-1L0.8,1L-0.8,1Z", "filled": true, "opacity": 1,
               "color": "#ff0a0a", "size": 361, "angle": 180},
      "encoding": {
        "x": {"datum": -53.348, "type": "quantitative", "axis": null},
        "y": {"datum": 0.87, "type": "quantitative", "axis": null}
      }
    },
    {
      "data": {"values": [{}]},
      "mark": {"type": "rule", "color": "#ff0a0a", "strokeWidth": 4.5},
      "encoding": {
        "x": {"datum": -53.348, "type": "quantitative", "axis": null},
        "y": {"datum": 0.0728, "type": "quantitative", "axis": null},
        "x2": {"datum": -53.348},
        "y2": {"datum": 0.1788}
      }
    },
    {
      "data": {"values": [{}]},
      "mark": {"type": "point", "shape": "M0,-1L0.8,1L-0.8,1Z", "filled": true, "opacity": 1,
               "color": "#ff0a0a", "size": 361, "angle": 0},
      "encoding": {
        "x": {"datum": -53.348, "type": "quantitative", "axis": null},
        "y": {"datum": 0.1788, "type": "quantitative", "axis": null}
      }
    }
  ],
  "resolve": {"axis": {"x": "independent", "y": "independent"}}
}
